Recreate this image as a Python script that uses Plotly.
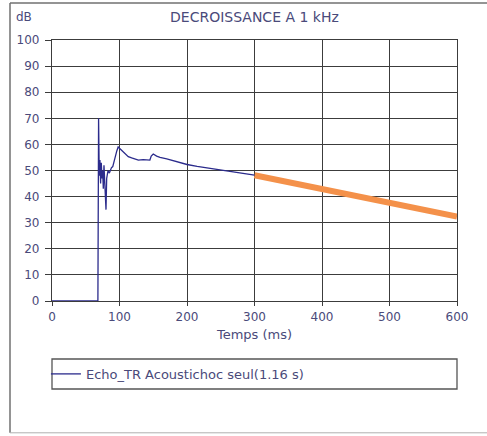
import plotly.graph_objects as go

# Measured decay (blue trace)
temps_ms = [0, 68, 69, 70, 71, 72, 73, 74, 75, 76, 77, 78, 79, 80, 81, 83, 85, 88, 90, 93, 96, 98,
            100, 103, 106, 110, 113, 118, 123, 128, 135, 140, 145, 147, 150, 155, 160, 170, 180,
            190, 200, 215, 230, 240, 255, 270, 285, 300]
niveau_db = [0, 0, 70, 48, 54, 45, 53, 47, 50, 43, 52, 46, 38, 35, 47, 50, 49, 51, 51.5, 55, 57.5, 59,
             58.5, 58, 57, 56, 55.3, 54.8, 54.3, 54, 54.2, 54, 54, 55.5, 56.3, 55.5, 55, 54.5, 53.8,
             53, 52.3, 51.6, 51, 50.6, 50, 49.4, 48.8, 48.2]

# Regression line (orange)
fit_t = [300, 600]
fit_db = [48.2, 32.4]

x_ticks = [0, 100, 200, 300, 400, 500, 600]
y_ticks = [0, 10, 20, 30, 40, 50, 60, 70, 80, 90, 100]

txt = "#4a4a7a"
grid = "#3c3c3c"
font = "DejaVu Sans, Liberation Sans, Arial, sans-serif"
frame = dict(color="#707070", width=1.5)

fig = go.Figure()
fig.add_trace(go.Scatter(x=fit_t, y=fit_db, mode="lines",
                         line=dict(color="#f4914a", width=6), showlegend=False,
                         hoverinfo="skip"))
fig.add_trace(go.Scatter(x=temps_ms, y=niveau_db, mode="lines",
                         line=dict(color="#2b2b8c", width=1.3),
                         name="Echo_TR Acoustichoc seul(1.16 s)"))

fig.update_layout(
    width=487, height=436,
    margin=dict(l=52, r=30, t=40, b=135),
    paper_bgcolor="white", plot_bgcolor="white",
    font=dict(family=font, size=12, color=txt),
    showlegend=True,
    legend=dict(x=-0.015, y=-0.222, xanchor="left", yanchor="top",
                bgcolor="rgba(0,0,0,0)", borderwidth=0,
                font=dict(family=font, size=13, color=txt),
                itemwidth=30, tracegroupgap=0),
    xaxis=dict(range=[0, 600], tickvals=x_ticks, showgrid=True, gridcolor=grid, gridwidth=1.3,
               showline=True, linecolor=grid, linewidth=1.3, mirror=True,
               ticks="outside", ticklen=4, tickcolor=grid, zeroline=False, automargin=False,
               tickfont=dict(family=font, size=12, color=txt),
               title=dict(text="Temps (ms)", font=dict(family=font, size=13, color=txt), standoff=7)),
    yaxis=dict(range=[0, 100], tickvals=y_ticks, showgrid=True, gridcolor=grid, gridwidth=1.3,
               showline=True, linecolor=grid, linewidth=1.3, mirror=True,
               ticks="outside", ticklen=6, tickcolor=grid, zeroline=False, automargin=False,
               ticklabelstandoff=3,
               tickfont=dict(family=font, size=12, color=txt)),
    shapes=[
        dict(type="line", xref="paper", yref="paper", x0=-0.1037, x1=-0.1037, y0=-0.505, y1=1.1418,
             line=frame, layer="below"),
        dict(type="line", xref="paper", yref="paper", x0=-0.1037, x1=1.1, y0=1.1418, y1=1.1418,
             line=frame, layer="below"),
        dict(type="line", xref="paper", yref="paper", x0=-0.1037, x1=1.1, y0=-0.505, y1=-0.505,
             line=dict(color="#b0b0b0", width=1), layer="below"),
        dict(type="rect", xref="paper", yref="paper", x0=0, x1=1, y0=-0.3372, y1=-0.2222,
             line=dict(color="#555555", width=1.3)),
    ],
    annotations=[
        dict(text="DECROISSANCE A 1 kHz", xref="paper", yref="paper", x=0.501, y=1.088,
             xanchor="center", yanchor="middle",
             showarrow=False, font=dict(family=font, size=14, color=txt)),
        dict(text="dB", xref="paper", yref="paper", x=-0.093, y=1.088,
             xanchor="left", yanchor="middle",
             showarrow=False, font=dict(family=font, size=12, color=txt)),
    ],
)

fig.write_html("out.html", config={"displayModeBar": False},
               post_script="document.body.style.margin='0';document.body.style.overflow='hidden';")
